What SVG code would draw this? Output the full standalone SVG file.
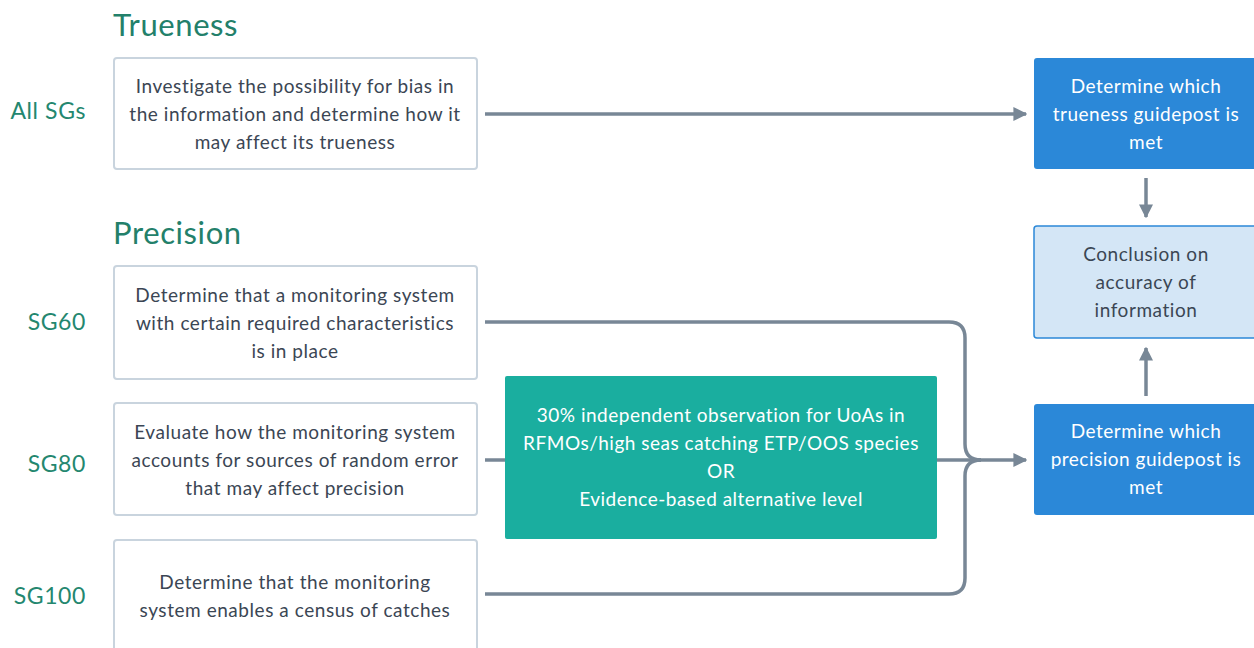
<svg xmlns="http://www.w3.org/2000/svg" width="1254" height="648" viewBox="0 0 1254 648">
<defs>
<style>
.h{font-family:Lato,"Liberation Sans",sans-serif;font-size:31px;fill:#23806a;letter-spacing:0.6px}
.sg{font-family:Lato,"Liberation Sans",sans-serif;font-size:23px;fill:#24876f;text-anchor:end;letter-spacing:0.6px}
.t{font-family:Lato,"Liberation Sans",sans-serif;font-size:19px;fill:#3b4654;text-anchor:middle;letter-spacing:0.55px}
.w{font-family:Lato,"Liberation Sans",sans-serif;font-size:19px;fill:#ffffff;text-anchor:middle;letter-spacing:0.5px}
.box{fill:#ffffff;stroke:#c9d4de;stroke-width:2}
.blue{fill:#2b88d8}
.light{fill:#d4e6f6;stroke:#2b88d8;stroke-width:1.5}
.green{fill:#1aae9f}
.c{fill:none;stroke:#788796;stroke-width:3.5}
</style>
<marker id="ah" viewBox="0 0 10 10" refX="9" refY="5" markerWidth="4" markerHeight="4" orient="auto" markerUnits="strokeWidth">
<path d="M0,0 L10,5 L0,10 z" fill="#788796"/>
</marker>
</defs>
<rect width="1254" height="648" fill="#ffffff"/>
<text class="h" x="113" y="36">Trueness</text>
<text class="h" x="113" y="244">Precision</text>
<g id="lbl-all"><text class="sg" x="86" y="119">All SGs</text></g>
<g id="lbl-sg60"><text class="sg" x="86" y="330">SG60</text></g>
<g id="lbl-sg80"><text class="sg" x="86" y="472">SG80</text></g>
<g id="lbl-sg100"><text class="sg" x="86" y="604">SG100</text></g>

<g id="connectors">
<path class="c" d="M485,114 H1026" marker-end="url(#ah)"/>
<path class="c" d="M1146,178 V217" marker-end="url(#ah)"/>
<path class="c" d="M1146,396 V348" marker-end="url(#ah)"/>
<path class="c" d="M485,322 H949 Q965,322 965,338 V444 Q965,460 981,460"/>
<path class="c" d="M485,594 H949 Q965,594 965,578 V476 Q965,460 981,460"/>
<path class="c" d="M485,460 H505"/>
<path class="c" d="M937,460 H1026" marker-end="url(#ah)"/>
</g>

<g id="n-bias">
<rect class="box" x="114" y="58" width="363" height="111" rx="3"/>
<text class="t" x="295" y="93">Investigate the possibility for bias in</text>
<text class="t" x="295" y="121">the information and determine how it</text>
<text class="t" x="295" y="149">may affect its trueness</text>
</g>
<g id="n-sg60">
<rect class="box" x="114" y="266" width="363" height="113" rx="3"/>
<text class="t" x="295" y="302">Determine that a monitoring system</text>
<text class="t" x="295" y="330">with certain required characteristics</text>
<text class="t" x="295" y="358">is in place</text>
</g>
<g id="n-sg80">
<rect class="box" x="114" y="403" width="363" height="112" rx="3"/>
<text class="t" x="295" y="439">Evaluate how the monitoring system</text>
<text class="t" x="295" y="467">accounts for sources of random error</text>
<text class="t" x="295" y="495">that may affect precision</text>
</g>
<g id="n-sg100">
<rect class="box" x="114" y="540" width="363" height="130" rx="3"/>
<text class="t" x="295" y="589">Determine that the monitoring</text>
<text class="t" x="295" y="617">system enables a census of catches</text>
</g>
<g id="n-obs">
<rect class="green" x="505" y="376" width="432" height="163" rx="2"/>
<text class="w" x="721" y="422">30% independent observation for UoAs in</text>
<text class="w" x="721" y="450">RFMOs/high seas catching ETP/OOS species</text>
<text class="w" x="721" y="478">OR</text>
<text class="w" x="721" y="506">Evidence-based alternative level</text>
</g>
<g id="n-trueness">
<rect class="blue" x="1034" y="58" width="230" height="111" rx="3"/>
<text class="w" x="1146" y="93">Determine which</text>
<text class="w" x="1146" y="121">trueness guidepost is</text>
<text class="w" x="1146" y="149">met</text>
</g>
<g id="n-conclusion">
<rect class="light" x="1034" y="226" width="230" height="112" rx="3"/>
<text class="t" x="1146" y="261">Conclusion on</text>
<text class="t" x="1146" y="289">accuracy of</text>
<text class="t" x="1146" y="317">information</text>
</g>
<g id="n-precision">
<rect class="blue" x="1034" y="404" width="230" height="111" rx="3"/>
<text class="w" x="1146" y="438">Determine which</text>
<text class="w" x="1146" y="466">precision guidepost is</text>
<text class="w" x="1146" y="494">met</text>
</g>
</svg>
